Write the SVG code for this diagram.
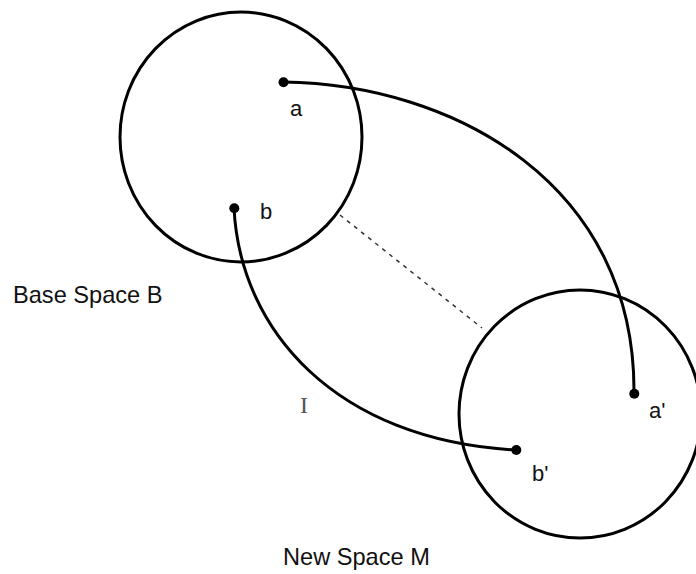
<svg xmlns="http://www.w3.org/2000/svg" width="696" height="574" viewBox="0 0 696 574">
<style>
.ring{fill:none;stroke:#000;stroke-width:3}
.arc{fill:none;stroke:#000;stroke-width:3}
.dash{fill:none;stroke:#333;stroke-width:1.5;stroke-dasharray:4 5}
.dot{fill:#000}
text{font-family:"Liberation Sans",Arial,sans-serif;font-size:22px;fill:#111}
.big{font-size:23.6px}
.serif{font-family:"Liberation Serif","Times New Roman",serif;font-size:24px;fill:#555}
</style>
<rect width="696" height="574" fill="#fff"/>
<g id="base-space">
<ellipse class="ring" cx="241" cy="137" rx="121" ry="125"/>
<text class="big" x="13" y="303">Base Space B</text>
</g>
<g id="new-space">
<ellipse class="ring" cx="580" cy="414" rx="121" ry="124"/>
<text class="big" x="283" y="565">New Space M</text>
</g>
<g id="connectors">
<path class="arc" d="M283,82 C455,84 636,185 634,394"/>
<path class="arc" d="M234,208 C240,330 335,440 516,450"/>
<path class="dash" d="M340,215 L482,328"/>
</g>
<g id="point-a"><circle class="dot" cx="283.5" cy="82.3" r="5"/><text x="290" y="116">a</text></g>
<g id="point-b"><circle class="dot" cx="234.3" cy="208.3" r="5"/><text x="260" y="219">b</text></g>
<g id="point-a-prime"><circle class="dot" cx="634.3" cy="393.7" r="5"/><text x="649" y="418">a'</text></g>
<g id="point-b-prime"><circle class="dot" cx="516.3" cy="450" r="5"/><text x="532" y="481">b'</text></g>
<g id="label-I"><text class="serif" x="300" y="413">I</text></g>
</svg>
